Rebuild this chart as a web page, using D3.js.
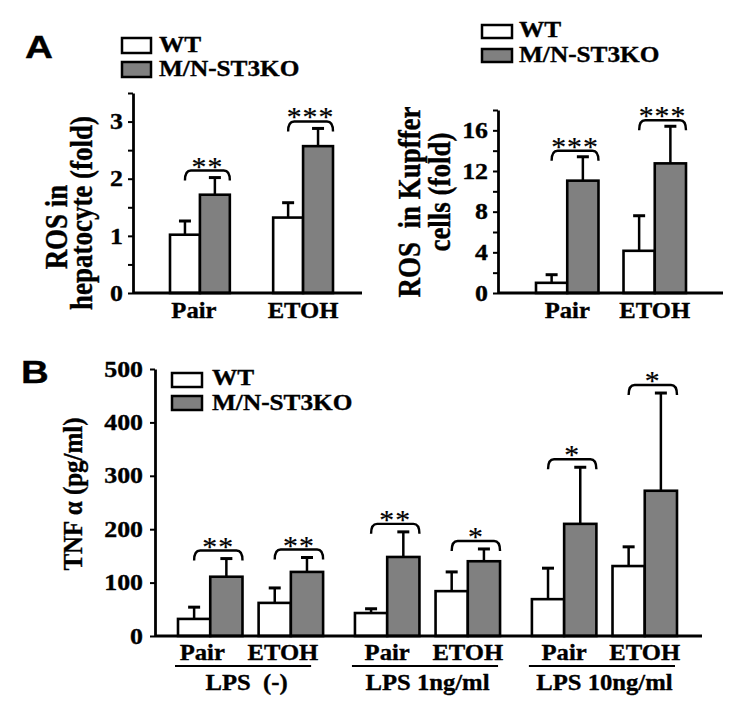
<!DOCTYPE html>
<html><head><meta charset="utf-8">
<script src="https://cdn.jsdelivr.net/npm/d3@7"></script>
<style>
body{margin:0;background:#fff}
text{font-family:"Liberation Serif","Times New Roman",serif;font-weight:bold;fill:#000;stroke:#000;stroke-width:0.35px}
</style></head><body>
<svg id="c" width="750" height="716"></svg>
<script>
// ---------- data ----------
const seriesNames = ["WT", "M/N-ST3KO"];
const seriesFill = ["#ffffff", "#808080"];
const dietGroups = ["Pair", "ETOH"];

// Panel A (left): ROS in hepatocyte (fold)
const hepWT = [1.02, 1.32];
const hepWTErr = [0.24, 0.26];
const hepKO = [1.72, 2.57];
const hepKOErr = [0.30, 0.31];
const hepSig = ["**", "***"];
const hepTicks = [0, 1, 2, 3];
const hepMinorTicks = [0, 0.5, 1, 1.5, 2, 2.5, 3, 3.5];

// Panel A (right): ROS in Kupffer cells (fold)
const kupWT = [1.0, 4.15];
const kupWTErr = [0.8, 3.45];
const kupKO = [11.05, 12.75];
const kupKOErr = [2.35, 3.65];
const kupSig = ["***", "***"];
const kupTicks = [0, 4, 8, 12, 16];
const kupMinorTicks = [0, 2, 4, 6, 8, 10, 12, 14, 16, 18];

// Panel B: TNF alpha (pg/ml); order per LPS group: Pair, ETOH
const lpsGroups = ["LPS\u00a0\u00a0(-)", "LPS 1ng/ml", "LPS 10ng/ml"];
const tnfWT = [32, 62, 43, 84, 69, 131];
const tnfWTErr = [22, 28, 8, 36, 58, 36];
const tnfKO = [111, 120, 148, 140, 210, 272];
const tnfKOErr = [34, 27, 47, 23, 106, 183];
const tnfSig = ["**", "**", "**", "*", "*", "*"];
const tnfTicks = [0, 100, 200, 300, 400, 500];

// ---------- helpers ----------
const svg = d3.select("#c");

function stext(g, x, y, str, o) {
  o = o || {};
  const sx = o.sx || 1;
  const t = g.append("text")
    .attr("transform", `translate(${x},${y}) scale(${sx},1)` + (o.rot ? " rotate(-90)" : ""))
    .attr("text-anchor", o.anchor || "start")
    .style("font-size", (o.size || 21) + "px")
    .text(str);
  if (o.family) t.style("font-family", o.family);
  if (o.weight) t.style("font-weight", o.weight);
  if (o.dy) t.attr("dy", o.dy);
  return t;
}

function legend(g, x, y1, y2, bw, bh, tx, b1, b2) {
  [y1, y2].forEach((yy, i) => {
    g.append("rect").attr("x", x).attr("y", yy).attr("width", bw).attr("height", bh)
      .attr("fill", seriesFill[i]).attr("stroke", "#000").attr("stroke-width", 2.5);
    stext(g, tx, i === 0 ? b1 : b2, seriesNames[i], {size: 23, sx: 1.1});
  });
}

function yAxis(g, y, axisX, minor, major, labelRight) {
  const ax = d3.axisLeft(y).tickValues(minor).tickSize(5).tickSizeOuter(0).tickFormat("");
  const ag = g.append("g").attr("transform", `translate(${axisX},0)`).call(ax);
  ag.select(".domain").attr("stroke-width", 2.8);
  ag.selectAll(".tick line").attr("stroke-width", 2);
  major.forEach(v => stext(g, labelRight, y(v), String(v), {anchor: "end", size: 22.5, sx: 1.15, dy: "0.34em"}));
}

function bars(g, y, items) {
  items.forEach(d => {
    const cx = d.x + d.w / 2;
    g.append("line").attr("x1", cx).attr("x2", cx).attr("y1", y(d.v)).attr("y2", y(d.v + d.e))
      .attr("stroke", "#000").attr("stroke-width", 2.5);
    g.append("line").attr("x1", cx - 6).attr("x2", cx + 6).attr("y1", y(d.v + d.e)).attr("y2", y(d.v + d.e))
      .attr("stroke", "#000").attr("stroke-width", 3);
    g.append("rect").attr("x", d.x).attr("y", y(d.v)).attr("width", d.w).attr("height", y(0) - y(d.v))
      .attr("fill", d.fill).attr("stroke", "#000").attr("stroke-width", 2.6);
  });
}

function bracket(g, x1, x2, top, label) {
  g.append("path")
    .attr("d", `M${x1},${top + 10} Q${x1},${top} ${x1 + 6},${top} L${x2 - 6},${top} Q${x2},${top} ${x2},${top + 10}`)
    .attr("fill", "none").attr("stroke", "#000").attr("stroke-width", 2.4);
  stext(g, (x1 + x2) / 2, top + 5, label, {anchor: "middle", size: 27, sx: 1.1, weight: "normal"})
    .style("letter-spacing", "1px").style("stroke-width", "0.2px");
}

// ---------- Panel A left ----------
(function () {
  const g = svg.append("g");
  const axisX = 133;
  const y = d3.scaleLinear().domain([0, 3.5]).range([293, 93]);
  const x = d3.scaleBand().domain(dietGroups).range([170, 333]).paddingInner(0.42);
  const xs = d3.scaleBand().domain(seriesNames).range([0, x.bandwidth()]);
  dietGroups.forEach((grp, i) => {
    const x0 = x(grp);
    bars(g, y, [
      {x: x0 + xs(seriesNames[0]), w: xs.bandwidth(), v: hepWT[i], e: hepWTErr[i], fill: seriesFill[0]},
      {x: x0 + xs(seriesNames[1]), w: xs.bandwidth(), v: hepKO[i], e: hepKOErr[i], fill: seriesFill[1]}
    ]);
    const top = y(Math.max(hepWT[i] + hepWTErr[i], hepKO[i] + hepKOErr[i])) - 7;
    bracket(g, x0 + xs.bandwidth() / 2, x0 + x.bandwidth(), top, hepSig[i]);
    stext(g, x0 + x.bandwidth() / 2 - (i === 0 ? 6 : 0), 318, grp, {anchor: "middle", size: 23.5, sx: 1.05});
  });
  g.append("line").attr("x1", axisX).attr("x2", 362).attr("y1", y(0)).attr("y2", y(0))
    .attr("stroke", "#000").attr("stroke-width", 2.8);
  yAxis(g, y, axisX, hepMinorTicks, hepTicks, 123);
  stext(g, 67, 227, "ROS in", {anchor: "middle", size: 27, sx: 1.15, rot: true});
  stext(g, 92, 213, "hepatocyte (fold)", {anchor: "middle", size: 27, sx: 1.15, rot: true});
  legend(g, 122, 38, 62, 29, 15, 159, 52, 76);
  stext(g, 25, 58, "A", {size: 31, sx: 1.25, family: "'Liberation Sans',Arial,sans-serif"});
})();

// ---------- Panel A right ----------
(function () {
  const g = svg.append("g");
  const axisX = 498;
  const y = d3.scaleLinear().domain([0, 18]).range([293, 110]);
  const x = d3.scaleBand().domain(dietGroups).range([536, 686]).paddingInner(0.286);
  const xs = d3.scaleBand().domain(seriesNames).range([0, x.bandwidth()]);
  dietGroups.forEach((grp, i) => {
    const x0 = x(grp);
    bars(g, y, [
      {x: x0 + xs(seriesNames[0]), w: xs.bandwidth(), v: kupWT[i], e: kupWTErr[i], fill: seriesFill[0]},
      {x: x0 + xs(seriesNames[1]), w: xs.bandwidth(), v: kupKO[i], e: kupKOErr[i], fill: seriesFill[1]}
    ]);
    const top = y(Math.max(kupWT[i] + kupWTErr[i], kupKO[i] + kupKOErr[i])) - 6;
    bracket(g, x0 + xs.bandwidth() / 2, x0 + x.bandwidth(), top, kupSig[i]);
    stext(g, x0 + x.bandwidth() / 2, 318, grp, {anchor: "middle", size: 23.5, sx: 1.05});
  });
  g.append("line").attr("x1", axisX).attr("x2", 723).attr("y1", y(0)).attr("y2", y(0))
    .attr("stroke", "#000").attr("stroke-width", 2.8);
  yAxis(g, y, axisX, kupMinorTicks, kupTicks, 488);
  stext(g, 420, 202, "ROS\u00a0\u00a0in Kupffer", {anchor: "middle", size: 27, sx: 1.15, rot: true});
  stext(g, 450, 192, "cells (fold)", {anchor: "middle", size: 27, sx: 1.15, rot: true});
  legend(g, 482, 25, 49, 30, 13, 519, 37, 62);
})();

// ---------- Panel B ----------
(function () {
  const g = svg.append("g");
  const axisX = 155;
  const y = d3.scaleLinear().domain([0, 500]).range([636, 369]);
  const x = d3.scaleBand().domain(lpsGroups).range([178, 677]).paddingInner(0.18);
  const xd = d3.scaleBand().domain(dietGroups).range([0, x.bandwidth()]).paddingInner(0.2);
  const xs = d3.scaleBand().domain(seriesNames).range([0, xd.bandwidth()]);
  lpsGroups.forEach((lg, gi) => {
    const gx = x(lg);
    dietGroups.forEach((dg, di) => {
      const k = gi * 2 + di;
      const x0 = gx + xd(dg);
      bars(g, y, [
        {x: x0 + xs(seriesNames[0]), w: xs.bandwidth(), v: tnfWT[k], e: tnfWTErr[k], fill: seriesFill[0]},
        {x: x0 + xs(seriesNames[1]), w: xs.bandwidth(), v: tnfKO[k], e: tnfKOErr[k], fill: seriesFill[1]}
      ]);
      const top = y(Math.max(tnfWT[k] + tnfWTErr[k], tnfKO[k] + tnfKOErr[k])) - 8;
      bracket(g, x0 + xs.bandwidth() / 2, x0 + xd.bandwidth(), top, tnfSig[k]);
      stext(g, x0 + xd.bandwidth() / 2 - (gi === 0 ? 8 : 0), 660, dg, {anchor: "middle", size: 23.5, sx: 1.05});
    });
    g.append("line").attr("x1", gx - 3).attr("x2", gx + x.bandwidth() - (gi === 0 ? 12 : 2)).attr("y1", 666).attr("y2", 666)
      .attr("stroke", "#000").attr("stroke-width", 2.2);
    stext(g, gx + x.bandwidth() / 2 - (gi === 0 ? 4 : 0), 690, lg, {anchor: "middle", size: 23.5, sx: 1.05});
  });
  g.append("line").attr("x1", axisX).attr("x2", 702).attr("y1", y(0)).attr("y2", y(0))
    .attr("stroke", "#000").attr("stroke-width", 2.8);
  yAxis(g, y, axisX, tnfTicks, tnfTicks, 143);
  stext(g, 82, 494, "TNF α (pg/ml)", {anchor: "middle", size: 25, sx: 1.05, rot: true});
  legend(g, 172, 373, 396, 30, 14, 212, 385, 410);
  stext(g, 21, 383, "B", {size: 32, sx: 1.2, family: "'Liberation Sans',Arial,sans-serif"});
})();
</script>
</body></html>
